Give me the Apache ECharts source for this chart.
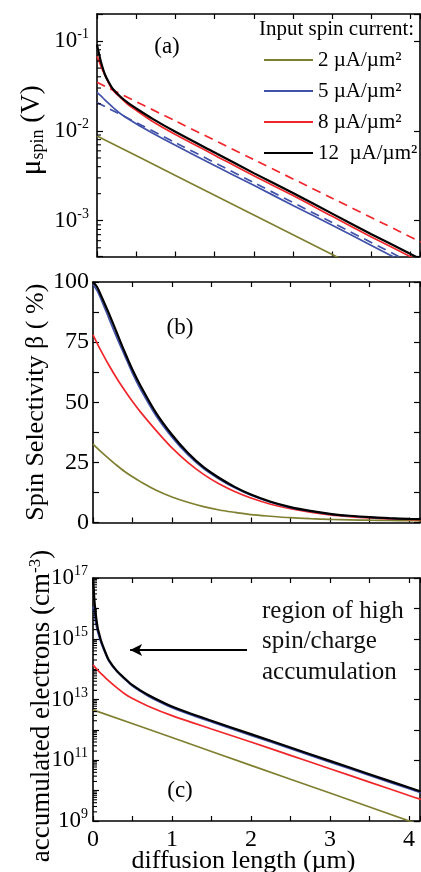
<!DOCTYPE html>
<html><head><meta charset="utf-8">
<script src="https://cdn.jsdelivr.net/npm/echarts@6/dist/echarts.min.js"></script>
<style>html,body{margin:0;padding:0;background:#fff}#c{width:421px;height:872px}</style>
</head><body><div id="c"></div>
<script>
// ---------------- DATA ----------------
const legendNames = ['2 µA/µm²', '5 µA/µm²', '8 µA/µm²', '12  µA/µm²'];

// Panel (a): spin potential (V) vs diffusion length (µm)
const xA = [0, 0.02, 0.05, 0.1, 0.15, 0.2, 0.3, 0.4, 0.5, 0.7, 1.0, 1.5, 2, 2.5, 3, 3.5, 4, 4.15];
const muBlack = [0.0912, 0.0759, 0.0589, 0.0427, 0.0347, 0.0295, 0.0240, 0.0204, 0.0178, 0.0138, 0.00977, 0.00575, 0.00339, 0.00204, 0.00120, 0.000708, 0.000427, 0.000363];
const muRed = [0.0676, 0.0617, 0.0525, 0.0417, 0.0339, 0.0285, 0.0234, 0.0195, 0.0170, 0.0129, 0.00912, 0.00537, 0.00316, 0.00191, 0.00112, 0.000661, 0.000398, 0.000339];
const xAblue = [0, 0.05, 0.1, 0.2, 0.3, 0.5, 0.7, 1.0, 1.5, 2, 2.5, 3, 3.5, 4];
const muBlue = [0.0269, 0.0245, 0.0221, 0.0184, 0.0155, 0.0120, 0.00955, 0.00692, 0.00412, 0.00248, 0.00148, 0.000891, 0.000531, 0.000316];
const xAolive = [0, 1, 2, 3, 3.3];
const muOlive = [0.00879, 0.00319, 0.00116, 0.000421, 0.000310];
const xAfit = [0, 1, 2, 3, 4.15];
const muRedFit = [0.0347, 0.0129, 0.00479, 0.00178, 0.000569];
const muBlueFit = [0.0207, 0.00741, 0.00266, 0.000955, 0.000294];

// Panel (b): spin selectivity (%)
const xB = [0, 0.05, 0.1, 0.2, 0.3, 0.4, 0.5, 0.6, 0.8, 1.0, 1.2, 1.4, 1.6, 1.8, 2.0, 2.25, 2.5, 2.75, 3.0, 3.25, 3.5, 3.75, 4.0, 4.15];
const betaBlack = [100, 98, 94.5, 87, 79, 71, 63.5, 57, 45.5, 36.5, 29, 23, 18.5, 14.7, 11.6, 8.6, 6.4, 4.8, 3.6, 2.8, 2.2, 1.8, 1.5, 1.4];
const betaBlue = [99, 96.5, 93, 85, 77, 69.5, 62, 55.5, 44.3, 35.5, 28.2, 22.4, 18, 14.3, 11.3, 8.4, 6.2, 4.7, 3.5, 2.7, 2.1, 1.7, 1.45, 1.35];
const betaRed = [78, 74.7, 71.5, 65.5, 60, 55, 50.3, 46, 38.2, 31, 25, 20, 16, 12.8, 10.2, 7.6, 5.7, 4.3, 3.2, 2.45, 1.9, 1.5, 1.25, 1.15];
const betaOlive = [32.6, 31, 29.5, 26.6, 23.8, 21.2, 19, 17, 13.4, 10.6, 8.4, 6.6, 5.2, 4.2, 3.3, 2.6, 2.0, 1.6, 1.3, 1.1, 0.95, 0.85, 0.75, 0.7];

// Panel (c): accumulated electrons (cm^-3)
const xC = [0, 0.01, 0.02, 0.04, 0.06, 0.08, 0.1, 0.15, 0.2, 0.3, 0.4, 0.5, 0.6, 0.7, 0.85, 1.0, 1.2, 1.5, 2, 2.5, 3, 3.5, 4, 4.15];
const nBlack = [1e17, 3.98e16, 1.58e16, 5.01e15, 2.24e15, 1.41e15, 8.91e14, 3.98e14, 2.0e14, 8.91e13, 5.01e13, 2.95e13, 2.0e13, 1.41e13, 8.91e12, 5.89e12, 3.72e12, 2.0e12, 7.24e11, 2.63e11, 9.55e10, 3.47e10, 1.26e10, 9.33e9];
const nBlue = [1.12e16, 7.94e15, 5.62e15, 2.82e15, 1.66e15, 1.10e15, 7.59e14, 3.55e14, 1.86e14, 8.32e13, 4.68e13, 2.75e13, 1.86e13, 1.29e13, 8.13e12, 5.37e12, 3.39e12, 1.82e12, 6.61e11, 2.40e11, 8.71e10, 3.16e10, 1.15e10, 8.51e9];
const xCred = [0, 0.05, 0.1, 0.2, 0.3, 0.4, 0.5, 0.7, 1.0, 1.5, 2, 2.5, 3, 3.5, 4, 4.15];
const nRed = [1.38e14, 9.77e13, 7.24e13, 4.07e13, 2.45e13, 1.55e13, 1.07e13, 6.03e12, 2.95e12, 1.07e12, 3.98e11, 1.45e11, 5.25e10, 1.91e10, 6.92e9, 5.13e9];
const xColive = [0, 1, 2, 3, 4.2];
const nOlive = [4.57e12, 5.62e11, 6.76e10, 8.32e9, 6.61e8];

// Axis decoration
const decadesA = [-4, -3, -2, -1];
const decadesC = [9, 10, 11, 12, 13, 14, 15, 16];
const minorMultipliers = [2, 3, 4, 5, 6, 7, 8, 9];
const arrowY = 4.27e14, arrowX = [0.47, 1.95];

// ---------------- CHART ----------------
const F = '"Liberation Serif", "Times New Roman", serif';
const COL = { olive: '#7f7f30', blue: '#3f51a8', red: '#f0262b', black: '#000000' };
const chart = echarts.init(document.getElementById('c'), null, { renderer: 'canvas' });

const pairs = (xs, ys) => xs.map((x, i) => [x, ys[i]]);
function line(name, xs, ys, color, xi, yi, extra) {
  return Object.assign({
    type: 'line', name, xAxisIndex: xi, yAxisIndex: yi, data: pairs(xs, ys),
    showSymbol: false, symbol: 'none', smooth: 0.3, clip: true, silent: true,
    itemStyle: { color }, lineStyle: { color, width: color === COL.black ? 2.2 : 1.7 },
    emphasis: { disabled: true }, z: color === COL.black ? 4 : 3
  }, extra || {});
}
const AL = { show: true, onZero: false, lineStyle: { color: '#000', width: 1.6 } };
function xAx(gi, pos, max, labels, extra) {
  return Object.assign({
    type: 'value', gridIndex: gi, position: pos, min: 0, max: max, interval: 0.5,
    axisLine: AL, splitLine: { show: false },
    axisTick: { show: true, inside: true, length: 5, lineStyle: { color: '#000', width: 1.2 } },
    axisLabel: labels ? {
      show: true, margin: 7, color: '#000', fontFamily: F, fontSize: 24,
      formatter: v => (Math.abs(v - Math.round(v)) < 1e-9 ? String(Math.round(v)) : '')
    } : { show: false }
  }, extra || {});
}
function powFmt(oddOnly) {
  return v => {
    const e = Math.round(Math.log10(v));
    if (Math.abs(v / Math.pow(10, e) - 1) > 1e-6) return '';
    if (oddOnly && Math.abs(e) % 2 === 0) return '';
    return '{b|10}{s|' + e + '}';
  };
}
const powRich = {
  b: { fontFamily: F, fontSize: 23, color: '#000', lineHeight: 27 },
  s: { fontFamily: F, fontSize: 14, color: '#000', verticalAlign: 'top', lineHeight: 14 }
};
function yAx(gi, pos, base, extra) {
  return Object.assign({
    gridIndex: gi, position: pos, axisLine: AL, splitLine: { show: false },
    axisTick: { show: true, inside: true, length: 6, lineStyle: { color: '#000', width: 1.2 } },
    axisLabel: { show: false }, nameMoveOverlap: false
  }, base, extra || {});
}
function minorTickSeries(xi, yi, decades, minV, maxV) {
  const vals = [];
  decades.forEach(d => minorMultipliers.forEach(m => {
    const v = m * Math.pow(10, d);
    if (v > minV && v < maxV) vals.push([0, v]);
  }));
  return {
    type: 'scatter', xAxisIndex: xi, yAxisIndex: yi, silent: true, clip: false, data: vals, z: 6,
    symbol: 'rect', symbolSize: [4, 1.1], symbolOffset: [2, 0],
    itemStyle: { color: '#000', opacity: 1 }, emphasis: { disabled: true }
  };
}

const yAmin = 4e-4, yAmax = 0.2, yCmin = 1e9, yCmax = 1e17;
const maxA = 4.12, maxBC = 4.14;

const option = {
  animation: false,
  backgroundColor: '#fff',
  color: [COL.olive, COL.blue, COL.red, COL.black],
  grid: [
    { left: 97, top: 14, width: 323, height: 242.5, outerBoundsMode: 'none', containLabel: false },
    { left: 93, top: 282, width: 327, height: 240.5, outerBoundsMode: 'none', containLabel: false },
    { left: 93, top: 578, width: 327, height: 243, outerBoundsMode: 'none', containLabel: false }
  ],
  xAxis: [
    xAx(0, 'bottom', maxA, false), xAx(0, 'top', maxA, false),
    xAx(1, 'bottom', maxBC, false), xAx(1, 'top', maxBC, false),
    xAx(2, 'bottom', maxBC, true, {
      name: 'diffusion length (µm)', nameLocation: 'middle', nameGap: 27, nameMoveOverlap: false,
      nameTextStyle: { fontFamily: F, fontSize: 26, color: '#000', padding: [0, 26, 0, 0] }
    }),
    xAx(2, 'top', maxBC, false)
  ],
  yAxis: [
    yAx(0, 'left', { type: 'log', min: yAmin, max: yAmax,
      axisLabel: { show: true, margin: 8, formatter: powFmt(false), rich: powRich },
      name: '{m|μ}{sub|spin}{n| (V)}', nameLocation: 'middle', nameRotate: 90, nameGap: 50,
      nameTextStyle: { rich: {
        m: { fontFamily: F, fontSize: 29, color: '#000', lineHeight: 30 },
        sub: { fontFamily: F, fontSize: 18, color: '#000', verticalAlign: 'bottom', lineHeight: 18 },
        n: { fontFamily: F, fontSize: 27, color: '#000', lineHeight: 30 } },
        padding: [0, 0, 0, 10] }
    }),
    yAx(0, 'right', { type: 'log', min: yAmin, max: yAmax }),
    yAx(1, 'left', { type: 'value', min: 0, max: 100, interval: 12.5,
      axisLabel: { show: true, margin: 4, color: '#000', fontFamily: F, fontSize: 24,
        formatter: v => (v % 25 === 0 ? String(v) : '') },
      name: 'Spin Selectivity β ( %)', nameLocation: 'middle', nameRotate: 90, nameGap: 44,
      nameTextStyle: { fontFamily: F, fontSize: 26, color: '#000' }
    }),
    yAx(1, 'right', { type: 'value', min: 0, max: 100, interval: 12.5 }),
    yAx(2, 'left', { type: 'log', min: yCmin, max: yCmax,
      axisLabel: { show: true, margin: 5, formatter: powFmt(true), rich: powRich },
      name: '{n|accumulated electrons (cm}{s|-3}{n|)}', nameLocation: 'middle', nameRotate: 90, nameGap: 36,
      nameTextStyle: { rich: {
        n: { fontFamily: F, fontSize: 27, color: '#000', lineHeight: 30 },
        s: { fontFamily: F, fontSize: 17, color: '#000', verticalAlign: 'top', lineHeight: 17 } },
        padding: [0, 13, 0, 0] }
    }),
    yAx(2, 'right', { type: 'log', min: yCmin, max: yCmax })
  ],
  legend: {
    orient: 'vertical', left: 259, top: 44, itemWidth: 49, itemHeight: 2, itemGap: 9,
    icon: 'rect', selectedMode: false,
    textStyle: { fontFamily: F, fontSize: 21, color: '#000', lineHeight: 22 },
    data: legendNames
  },
  graphic: [
    { type: 'text', left: 259, top: 19, style: { text: 'Input spin current:', font: '21px "Liberation Serif"', fill: '#000' } },
    { type: 'text', x: 167, y: 47, style: { text: '(a)', font: '23px "Liberation Serif"', fill: '#000', align: 'center', verticalAlign: 'middle' } },
    { type: 'text', x: 180, y: 328, style: { text: '(b)', font: '23px "Liberation Serif"', fill: '#000', align: 'center', verticalAlign: 'middle' } },
    { type: 'text', x: 180, y: 791, style: { text: '(c)', font: '23px "Liberation Serif"', fill: '#000', align: 'center', verticalAlign: 'middle' } },
    { type: 'text', left: 262, top: 596, style: { text: 'region of high\nspin/charge\naccumulation', font: '25px "Liberation Serif"', lineHeight: 30.5, fill: '#111' } }
  ],
  series: [
    // (a)
    line(legendNames[0], xAolive, muOlive, COL.olive, 0, 0),
    line('5 fit', xAfit, muBlueFit, COL.blue, 0, 0, { lineStyle: { color: COL.blue, width: 1.7, type: [9, 6] } }),
    line(legendNames[1], xAblue, muBlue, COL.blue, 0, 0),
    line('8 fit', xAfit, muRedFit, COL.red, 0, 0, { lineStyle: { color: COL.red, width: 1.7, type: [9, 6] } }),
    line(legendNames[2], xA, muRed, COL.red, 0, 0),
    line(legendNames[3], xA, muBlack, COL.black, 0, 0),
    minorTickSeries(0, 0, decadesA, yAmin, yAmax),
    // (b)
    line(legendNames[0], xB, betaOlive, COL.olive, 2, 2),
    line(legendNames[2], xB, betaRed, COL.red, 2, 2),
    line(legendNames[1], xB, betaBlue, COL.blue, 2, 2),
    line(legendNames[3], xB, betaBlack, COL.black, 2, 2),
    // (c)
    line(legendNames[0], xColive, nOlive, COL.olive, 4, 4),
    line(legendNames[2], xCred, nRed, COL.red, 4, 4),
    line(legendNames[1], xC, nBlue, COL.blue, 4, 4),
    line(legendNames[3], xC, nBlack, COL.black, 4, 4, {
      markLine: {
        silent: true, symbol: ['arrow', 'none'], symbolSize: [9, 12], animation: false,
        label: { show: false }, emphasis: { disabled: true },
        lineStyle: { color: '#000', width: 2, type: 'solid' },
        data: [[{ coord: [arrowX[0], arrowY] }, { coord: [arrowX[1], arrowY] }]]
      }
    }),
    minorTickSeries(4, 4, decadesC, yCmin, yCmax)
  ]
};
chart.setOption(option);
</script></body></html>
